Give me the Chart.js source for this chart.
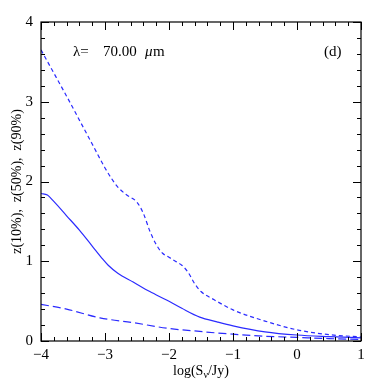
<!DOCTYPE html>
<html>
<head>
<meta charset="utf-8">
<script src="https://cdn.jsdelivr.net/npm/chart.js@4"></script>
<style>
  html, body { margin: 0; padding: 0; background: #fff; }
  #wrap { width: 382px; height: 382px; }
</style>
</head>
<body>
<div id="wrap"><canvas id="chart" width="382" height="382"></canvas></div>
<script>
// log(S/Jy) and redshift values
const logS90 = [-4, -3.8, -3.6, -3.4, -3.2, -3.0, -2.9, -2.8, -2.66, -2.5, -2.4, -2.3, -2.2, -2.1, -2.0, -1.9, -1.8, -1.7, -1.6, -1.5, -1.3, -1.0, -0.5, 0, 0.5, 1];
const z90 = [3.65, 3.36, 3.07, 2.77, 2.47, 2.17, 2.04, 1.93, 1.83, 1.74, 1.6, 1.38, 1.21, 1.1, 1.05, 1.0, 0.95, 0.86, 0.72, 0.62, 0.52, 0.39, 0.25, 0.14, 0.08, 0.05];

const logS50 = [-4, -3.9, -3.8, -3.6, -3.4, -3.2, -3.05, -2.95, -2.8, -2.56, -2.3, -2.03, -1.8, -1.52, -1.25, -1.0, -0.5, 0, 0.5, 1];
const z50 = [1.85, 1.83, 1.75, 1.57, 1.39, 1.19, 1.04, 0.95, 0.85, 0.74, 0.62, 0.51, 0.41, 0.30, 0.24, 0.19, 0.115, 0.075, 0.055, 0.04];

const logS10 = [-4, -3.6, -3.08, -2.56, -2.03, -1.52, -1.0, -0.5, 0, 0.5, 1];
const z10 = [0.46, 0.40, 0.29, 0.23, 0.16, 0.12, 0.085, 0.06, 0.045, 0.03, 0.02];

const xTicks = [-4, -3, -2, -1, 0, 1];
const yTicks = [0, 1, 2, 3, 4];

const blue = '#2b2bff';
const serif = '"Liberation Serif", "DejaVu Serif", serif';

function pts(xs, ys) {
    return xs.map((x, i) => ({ x: x, y: ys[i] }));
}

// inward ticks on all four sides, plus frame and labels
const framePlugin = {
    id: 'frame',
    afterDraw(c) {
        const ctx = c.ctx;
        const a = c.chartArea;
        const xs = c.scales.x, ys = c.scales.y;
        ctx.save();
        ctx.strokeStyle = '#000';
        ctx.lineWidth = 1.2;
        ctx.strokeRect(a.left, a.top, a.right - a.left, a.bottom - a.top);
        ctx.lineWidth = 1;
        ctx.beginPath();
        for (let v = -4; v <= 1.0001; v += 0.2) {
            const major = Math.abs(v - Math.round(v)) < 1e-6;
            const len = major ? 8 : 4;
            const px = Math.round(xs.getPixelForValue(v)) + 0.5;
            ctx.moveTo(px, a.bottom); ctx.lineTo(px, a.bottom - len);
            ctx.moveTo(px, a.top); ctx.lineTo(px, a.top + len);
        }
        for (let v = 0; v <= 4.0001; v += 0.2) {
            const major = Math.abs(v - Math.round(v)) < 1e-6;
            const len = major ? 8 : 4;
            const py = Math.round(ys.getPixelForValue(v)) + 0.5;
            ctx.moveTo(a.left, py); ctx.lineTo(a.left + len, py);
            ctx.moveTo(a.right, py); ctx.lineTo(a.right - len, py);
        }
        ctx.stroke();

        ctx.fillStyle = '#000';
        ctx.font = '15px ' + serif;
        ctx.textBaseline = 'middle';
        ctx.textAlign = 'left';
        ctx.fillText('\u03BB=', 73, 52);
        ctx.fillText('70.00', 103, 52);
        ctx.font = 'italic 15px ' + serif;
        ctx.fillText('\u03BC', 145, 52);
        ctx.font = '15px ' + serif;
        ctx.fillText('m', 153, 52);
        ctx.fillText('(d)', 324, 52);

        // x axis title with subscript nu
        const y0 = 371;
        const p1 = 'log(S', p2 = '\u03BD', p3 = '/Jy)';
        ctx.font = '14px ' + serif;
        const w1 = ctx.measureText(p1).width, w3 = ctx.measureText(p3).width;
        ctx.font = '10px ' + serif;
        const w2 = ctx.measureText(p2).width;
        let x0 = (a.left + a.right) / 2 - (w1 + w2 + w3) / 2;
        ctx.font = '14px ' + serif;
        ctx.fillText(p1, x0, y0);
        ctx.font = '10px ' + serif;
        ctx.fillText(p2, x0 + w1, y0 + 4);
        ctx.font = '14px ' + serif;
        ctx.fillText(p3, x0 + w1 + w2, y0);

        // y axis title
        ctx.translate(17, (a.top + a.bottom) / 2);
        ctx.rotate(-Math.PI / 2);
        ctx.textAlign = 'center';
        ctx.fillText('z(10%),  z(50%),  z(90%)', 0, 0);
        ctx.restore();
    }
};

new Chart(document.getElementById('chart'), {
    type: 'line',
    data: {
        datasets: [
            { label: 'z(90%)', data: pts(logS90, z90), borderColor: blue, borderWidth: 1.2, borderDash: [4, 3], pointRadius: 0, cubicInterpolationMode: 'monotone', fill: false },
            { label: 'z(50%)', data: pts(logS50, z50), borderColor: blue, borderWidth: 1.2, pointRadius: 0, cubicInterpolationMode: 'monotone', fill: false },
            { label: 'z(10%)', data: pts(logS10, z10), borderColor: blue, borderWidth: 1.2, borderDash: [8, 4], pointRadius: 0, cubicInterpolationMode: 'monotone', fill: false }
        ]
    },
    options: {
        responsive: false,
        animation: false,
        layout: { padding: { left: 0, right: 21, top: 22, bottom: 0 } },
        plugins: { legend: { display: false }, tooltip: { enabled: false } },
        scales: {
            x: {
                type: 'linear', min: -4, max: 1,
                grid: { display: false, drawTicks: false },
                border: { display: false },
                afterBuildTicks: s => { s.ticks = xTicks.map(v => ({ value: v })); },
                afterFit: s => { s.height = 41; },
                ticks: {
                    color: '#000', padding: 5, maxRotation: 0,
                    font: { family: serif, size: 15 },
                    callback: v => (v < 0 ? '\u2212' + Math.abs(v) : '' + v)
                }
            },
            y: {
                type: 'linear', min: 0, max: 4,
                grid: { display: false, drawTicks: false },
                border: { display: false },
                afterBuildTicks: s => { s.ticks = yTicks.map(v => ({ value: v })); },
                afterFit: s => { s.width = 41; },
                ticks: {
                    color: '#000', padding: 8,
                    font: { family: serif, size: 15 },
                    callback: v => '' + v
                }
            }
        }
    },
    plugins: [framePlugin]
});
</script>
</body>
</html>
